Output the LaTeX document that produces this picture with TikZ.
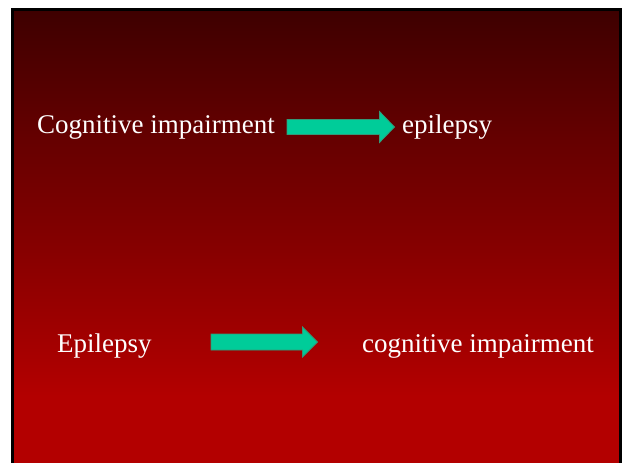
\documentclass[tikz,border=0pt]{standalone}
\usepackage{fontspec}
\setmainfont{Liberation Serif}
\usetikzlibrary{calc}
\definecolor{slidetop}{RGB}{62,0,0}
\definecolor{slidebottom}{RGB}{179,0,0}
\definecolor{arrowfill}{RGB}{0,204,153}
\definecolor{arrowline}{RGB}{51,153,119}
\tikzset{
	slidetext/.style={anchor=base west, inner sep=0pt, text=white, font=\fontsize{27}{32}\selectfont},
	fatarrow/.style={fill=arrowfill, draw=arrowline, line width=0.8pt, line join=miter}
}
% thick arrow from #1 to #2, half shaft #3, half head #4
\newcommand{\fatarrowpath}[4]{
	\draw[fatarrow] ($(#1)+(0,-#3)$) -- ($(#2)+(-15,-#3)$) -- ($(#2)+(-15,-#4)$)
		-- (#2) -- ($(#2)+(-15,#4)$) -- ($(#2)+(-15,#3)$) -- ($(#1)+(0,#3)$) -- cycle;
}
\begin{document}
\begin{tikzpicture}[x=1pt, y=-1pt]
	%frame
	\useasboundingbox (0,0) rectangle (625,463);
	\fill[white] (0,0) rectangle (625,463);
	\fill[slidebottom] (12.5,395) rectangle (620.7,463);
	\shade[top color=slidetop, bottom color=slidebottom] (12.5,9.5) rectangle (620.7,396);
	\draw[black, line width=3pt] (12.5,470) -- (12.5,9.5) -- (620.7,9.5) -- (620.7,470);
	%texts
	\node[slidetext] (cogA) at (37,133) {Cognitive impairment};
	\node[slidetext] (epiA) at (402,133) {epilepsy};
	\node[slidetext] (epiB) at (57,352.5) {Epilepsy};
	\node[slidetext] (cogB) at (362,352.5) {cognitive impairment};
	%arrows
	\coordinate (arrA start) at (287,127);
	\coordinate (arrA end) at (394.5,127);
	\coordinate (arrB start) at (211,342);
	\coordinate (arrB end) at (317.5,342);
	\fatarrowpath{arrA start}{arrA end}{7.5}{15.5}
	\fatarrowpath{arrB start}{arrB end}{8}{15}
\end{tikzpicture}
\end{document}
